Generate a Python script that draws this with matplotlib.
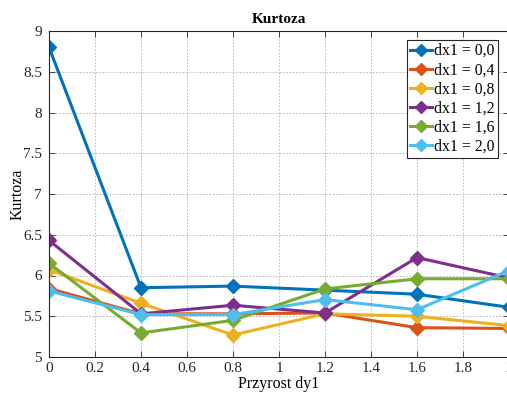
import matplotlib
matplotlib.use("Agg")
import matplotlib.pyplot as plt

plt.rcParams['font.family'] = ['Liberation Serif', 'DejaVu Serif']

x = [0, 0.4, 0.8, 1.2, 1.6, 2.0]
labels = ['dx1 = 0,0', 'dx1 = 0,4', 'dx1 = 0,8', 'dx1 = 1,2', 'dx1 = 1,6', 'dx1 = 2,0']
s00 = [8.80, 5.85, 5.87, 5.82, 5.77, 5.61]
s04 = [5.84, 5.53, 5.53, 5.54, 5.36, 5.35]
s08 = [6.07, 5.66, 5.27, 5.53, 5.50, 5.385]
s12 = [6.43, 5.53, 5.635, 5.54, 6.22, 5.97]
s16 = [6.15, 5.295, 5.45, 5.835, 5.96, 5.96]
s20 = [5.81, 5.52, 5.52, 5.705, 5.58, 6.06]
series = [s00, s04, s08, s12, s16, s20]
colors = ['#0072BD', '#D95319', '#EDB120', '#7E2F8E', '#77AC30', '#4DBEEE']
xticks = [0, 0.2, 0.4, 0.6, 0.8, 1, 1.2, 1.4, 1.6, 1.8, 2]
xticklabels = ['0', '0.2', '0.4', '0.6', '0.8', '1', '1.2', '1.4', '1.6', '1.8', '2']
yticks = [5, 5.5, 6, 6.5, 7, 7.5, 8, 8.5, 9]
yticklabels = ['5', '5.5', '6', '6.5', '7', '7.5', '8', '8.5', '9']

fig = plt.figure(figsize=(5.07, 4.0), dpi=100)
ax = fig.add_axes([49/507, 1-357/400, (509-49)/507, (357-31)/400])

for s, c, lab in zip(series, colors, labels):
    ax.plot(x, s, color=c, lw=2.2, marker='D', ms=7, label=lab)

ax.set_xlim(0, 2)
ax.set_ylim(5, 9)
ax.set_xticks(xticks)
ax.set_xticklabels(xticklabels)
ax.set_yticks(yticks)
ax.set_yticklabels(yticklabels)
ax.tick_params(direction='in', top=True, right=True, labelsize=11, length=4, width=0.6, colors='#262626')
ax.tick_params(axis='y', pad=5)
ax.grid(True, linestyle=(0, (2, 2)), color='#b0b0b0', lw=0.6)
for sp in ax.spines.values():
    sp.set_color('#262626')
    sp.set_linewidth(0.8)

ax.set_title('Kurtoza', fontsize=11, fontweight='bold', pad=6)
ax.set_xlabel('Przyrost dy1', fontsize=11.5, labelpad=1)
ax.set_ylabel('Kurtoza', fontsize=11.5, labelpad=-2)

leg = ax.legend(loc='upper right', bbox_to_anchor=(498/507, 1-40/400), bbox_transform=fig.transFigure,
                borderaxespad=0, fontsize=11.3, handlelength=1.4, handletextpad=0.15,
                labelspacing=0.2, borderpad=0.2, fancybox=False, framealpha=1, markerscale=0.9)
leg.get_frame().set_edgecolor('#262626')
leg.get_frame().set_linewidth(0.8)

fig.savefig('out.png', dpi=100)
